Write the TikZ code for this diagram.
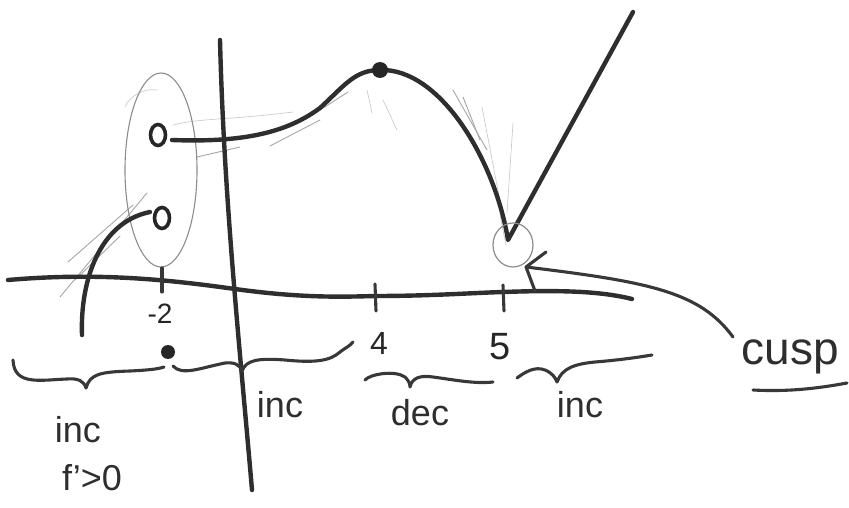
\documentclass[tikz,border=0pt]{standalone}
\usepackage{fontspec}
\setmainfont{Liberation Sans}
\usetikzlibrary{arrows.meta,shapes.geometric}
\begin{document}
\begin{tikzpicture}[x=1pt,y=-1pt,
  ink/.style={line width=4.4pt, draw=black!82, line cap=round, line join=round},
  thinink/.style={line width=3.1pt, draw=black!78, line cap=round, line join=round},
  pencil/.style={line width=0.9pt, draw=black!35, line cap=round},
  faint/.style={line width=0.7pt, draw=black!20, line cap=round},
  hole/.style={ellipse, draw=black!85, line width=3.6pt, fill=white, inner sep=0pt, minimum width=15pt, minimum height=21pt},
  lbl/.style={inner sep=0pt, text=black!82, font=\fontsize{36}{40}\selectfont},
  tick/.style={inner sep=0pt, text=black!85, font=\fontsize{32}{36}\selectfont}]
\useasboundingbox (0,0) rectangle (849,508);

% pencil construction marks
\draw[pencil] (60,297) -- (147,193);
\draw[pencil] (68,262) -- (133,205);
\draw[pencil] (75,280) -- (120,236);
\draw[faint] (125,107) .. controls (130,95) and (145,88) .. (157,90);
\draw[faint] (173,125) .. controls (200,118) and (230,120) .. (293,112);
\draw[pencil] (197,157) -- (240,147);
\draw[pencil] (270,146) -- (320,120);
\draw[pencil] (320,110) -- (348,92);
\draw[faint] (367,90) -- (372,113);
\draw[faint] (383,100) -- (397,130);
\draw[pencil] (453,90) -- (487,150);
\draw[pencil] (463,97) -- (480,140);
\draw[faint] (482,107) -- (503,217);
\draw[faint] (513,123) -- (507,213);
\draw[faint] (500,215) -- (506,245);

% ellipse around the jump at -2
\draw[line width=1.1pt, draw=black!45] (161,170) ellipse (36 and 97);

% axes
\draw[ink] (8,280) .. controls (100,272) and (170,280) .. (235,289)
  .. controls (300,298) and (340,297) .. (375,296)
  .. controls (430,296) and (470,293) .. (503,292)
  .. controls (560,290) and (600,291) .. (632,299);
\draw[ink] (220,40) .. controls (224,200) and (240,350) .. (252,490);

% ticks
\draw[thinink] (162,268) -- (162,292);
\draw[thinink] (375,284) -- (376,311);
\draw[thinink] (503,285) -- (504,311);
\node[tick, font=\fontsize{28}{32}\selectfont] (lm2) at (160,314) {-2};
\node[tick] (l4) at (379,343) {4};
\node[tick, font=\fontsize{38}{42}\selectfont] (l5) at (500,347) {5};

% graph
\draw[ink] (82,335) .. controls (80,280) and (100,222) .. (150,212);
\node[hole] (h1) at (162,218) {};
\draw[ink] (172,140) .. controls (250,143) and (290,130) .. (320,108)
  .. controls (345,85) and (355,70) .. (380,70)
  .. controls (440,68) and (495,160) .. (508,240) -- (633,12);
\node[hole] (h2) at (158,135) {};
\node[circle, fill=black!85, inner sep=0pt, minimum size=16pt] (max) at (380,70) {};

% cusp circle and label
\node[ellipse, draw=black!45, line width=1.2pt, minimum width=40pt, minimum height=44pt] (cc) at (513,245) {};
\node[lbl, font=\fontsize{46}{50}\selectfont] (cusp) at (790,357) {cusp};
\coordinate (cs) at (733,337);
\draw[thinink] (cs) .. controls (700,292) and (650,282) .. (526,267);
\draw[thinink] (546,252) -- (526,267) -- (535,291);
\draw[thinink] (753,390) .. controls (790,392) and (820,388) .. (847,383);

% braces
\draw[thinink] (13,360) .. controls (14,386) and (40,380) .. (67,379)
  .. controls (78,378) and (84,381) .. (86,388)
  .. controls (90,374) and (100,372) .. (130,371)
  .. controls (150,370) and (158,369) .. (164,367);
\draw[thinink] (173,366) .. controls (182,376) and (200,368) .. (225,363)
  .. controls (235,362) and (240,365) .. (242,371)
  .. controls (246,360) and (258,358) .. (285,360)
  .. controls (315,363) and (330,361) .. (340,352)
  .. controls (345,348) and (350,346) .. (353,342);
\draw[thinink] (365,380) .. controls (370,374) and (395,370) .. (405,377)
  .. controls (408,380) and (410,383) .. (410,387)
  .. controls (412,378) and (420,375) .. (433,377)
  .. controls (455,380) and (475,384) .. (493,382);
\draw[thinink] (517,378) .. controls (525,372) and (535,366) .. (545,370)
  .. controls (552,373) and (555,377) .. (557,382)
  .. controls (562,368) and (575,364) .. (595,362)
  .. controls (620,360) and (640,357) .. (652,355);
\node[circle, fill=black!85, inner sep=0pt, minimum width=11pt, minimum height=14pt] (dot) at (168,352) {};

% interval labels
\node[lbl] (inc1) at (78,430) {inc};
\node[lbl] (fp) at (92,478) {f'>0};
\node[lbl] (inc2) at (280,405) {inc};
\node[lbl] (dec) at (420,413) {dec};
\node[lbl] (inc3) at (580,405) {inc};
\end{tikzpicture}
\end{document}
